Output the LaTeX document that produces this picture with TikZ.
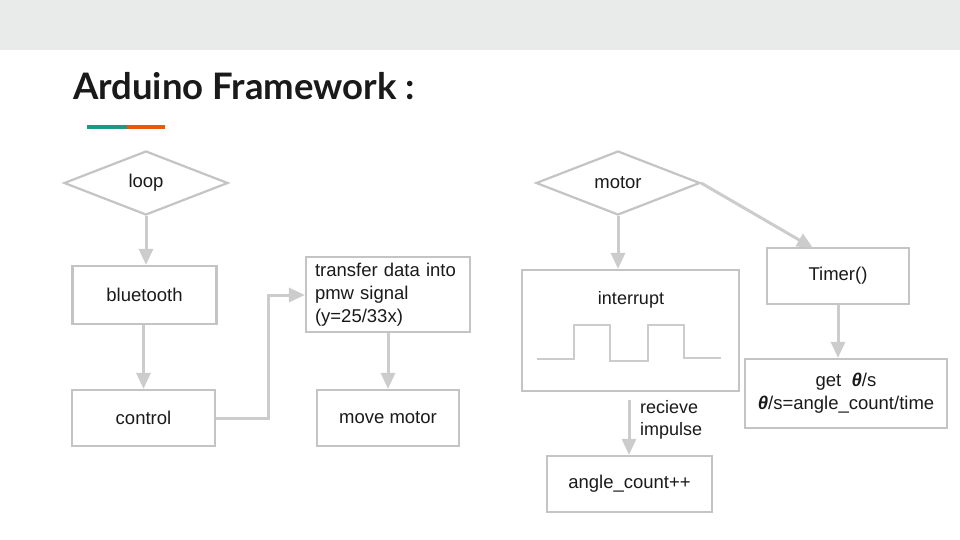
\documentclass[tikz,border=0pt]{standalone}
\usepackage{fontspec}
\setmainfont{Liberation Sans}
\newfontfamily\titlefont{Lato}
\usetikzlibrary{shapes.geometric,arrows.meta}
\definecolor{band}{HTML}{E9EBEB}
\definecolor{boxline}{HTML}{C4C4C4}
\definecolor{arrline}{HTML}{CCCCCC}
\definecolor{teal}{HTML}{1A9A84}
\definecolor{orng}{HTML}{E8590C}
\definecolor{txt}{HTML}{1A1A1A}
\tikzset{
  boxst/.style={draw=boxline,line width=2.2pt,fill=white,inner sep=0pt,text=txt,font=\fontsize{18.5}{23}\selectfont},
  arr/.style={draw=arrline,line width=3pt,-{Triangle[width=14pt,length=16pt]}},
  lbl/.style={text=txt,font=\fontsize{18}{22}\selectfont,inner sep=0pt}
}
\begin{document}
\begin{tikzpicture}[x=1pt,y=-1pt]
\useasboundingbox (0,0) rectangle (960,540);
\fill[white] (0,0) rectangle (960,540);
\fill[band] (0,0) rectangle (960,50);
\node[anchor=base west,inner sep=0pt,text=txt,font=\titlefont\bfseries\fontsize{36.5}{42}\selectfont] (title) at (73,100) {Arduino Framework :};
\fill[teal] (87,125.5) rectangle (127,129.5);
\fill[orng] (127,125.5) rectangle (165,129.5);

% left flow
\node[boxst,minimum width=164pt,minimum height=64pt,shape=diamond,aspect=2.56] (loop) at (146,183) {loop};
\node[boxst,minimum width=145pt,minimum height=58pt] (bt) at (144.5,295) {bluetooth};
\draw[boxline,line width=1.2pt] ([xshift=2.5pt]bt.north west) -- ([xshift=2.5pt]bt.south west)
  ([xshift=-2.5pt]bt.north east) -- ([xshift=-2.5pt]bt.south east);
\node[boxst,minimum width=143pt,minimum height=56pt] (ctrl) at (143.5,418) {control};
\node[boxst,minimum width=164pt,minimum height=75pt,align=left,text width=146pt,inner xsep=9pt] (tr) at (388,294.5) {transfer data into\\pmw signal\\(y=25/33x)};
\node[boxst,minimum width=142pt,minimum height=56pt] (mm) at (388,418) {move motor};

\draw[arr] (loop.south) -- (loop.south |- bt.north);
\draw[arr] (ctrl.north |- bt.south) -- (ctrl.north);
\draw[arr] (ctrl.east) -- (268,418) -- (268,295) -- (tr.west |- 0,295);
\draw[arr] (tr.south) -- (mm.north);

% right flow
\node[boxst,minimum width=164pt,minimum height=64pt,shape=diamond,aspect=2.56] (motor) at (618,183) {motor};
\node[boxst,minimum width=217pt,minimum height=121pt] (intr) at (630.5,330.5) {};
\node[lbl] (intrl) at (631,300) {interrupt};
\coordinate (w0) at (537,359);
\coordinate (w1) at (721,358);
\draw[arrline,line width=2.2pt] (w0) -- (574,359) -- (574,325) -- (610,325) -- (610,361) -- (648,361) -- (648,325) -- (684,325) -- (684,358) -- (w1);
\node[boxst,minimum width=165pt,minimum height=56pt] (ac) at (629.5,484) {angle\_count++};
\node[boxst,minimum width=142pt,minimum height=56pt] (tm) at (838,276) {Timer()};
\node[boxst,minimum width=202pt,minimum height=69pt,align=center] (get) at (846,393.5) {get\ \ \textbf{\textit{θ}}/s\\\textbf{\textit{θ}}/s=angle\_count/time};

\draw[arr] (motor.south) -- (intr.north -| motor.south);
\coordinate (ia) at (629,400);
\draw[arr] (ia) -- (ac.north -| ia);
\node[lbl,anchor=north west,align=left] (rl) at (640,400) {recieve\\impulse};
\draw[arr] (motor.east) -- (813,248);
\draw[arr] (tm.south) -- (get.north -| tm.south);
\end{tikzpicture}
\end{document}
